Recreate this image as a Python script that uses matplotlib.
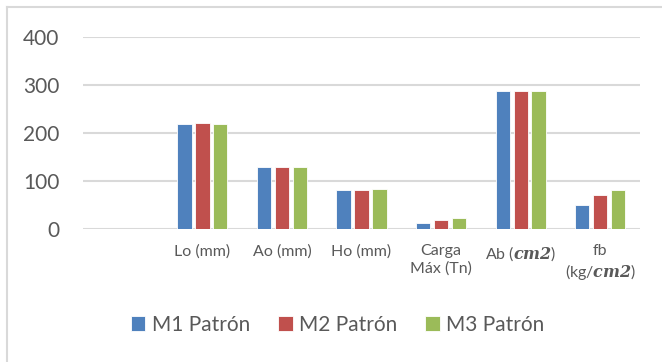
import numpy as np
import matplotlib
matplotlib.use("Agg")
import matplotlib.pyplot as plt
from matplotlib.lines import Line2D

categories = ["", "Lo (mm)", "Ao (mm)", "Ho (mm)", "Carga\nMáx (Tn)",
              r"Ab ($\mathbfit{cm2}$)", "fb\n(kg/$\mathbfit{cm2}$)"]
m1 = [np.nan, 219.5, 130.0, 81.0, 12.6, 287.8, 51.0]
m2 = [np.nan, 221.5, 128.5, 81.0, 18.9, 287.8, 70.6]
m3 = [np.nan, 219.5, 128.5, 82.4, 22.4, 286.6, 81.8]
series = ["M1 Patrón", "M2 Patrón", "M3 Patrón"]
colors = ["#4F81BD", "#C0504D", "#9BBB59"]
yticks = [0, 100, 200, 300, 400]

plt.rcParams['font.family'] = ['Lato', 'DejaVu Sans']
plt.rcParams['mathtext.fontset'] = 'dejavuserif'
text_color = "#595959"

fig = plt.figure(figsize=(6.62, 3.62), dpi=100)
ax = fig.add_axes([0.1254, 0.3674, 0.8414, 0.5304])

x = np.arange(len(categories))
step = 0.225
width = 0.18
for i, (vals, name, c) in enumerate(zip([m1, m2, m3], series, colors)):
    ax.bar(x + (i - 1) * step, vals, width, color=c, label=name,
           edgecolor="white", linewidth=0.6, zorder=3)

ax.set_xlim(-0.5, len(categories) - 0.5)
ax.set_ylim(0, 400)
ax.set_yticks(yticks)
ax.set_yticklabels([str(v) for v in yticks], fontsize=15, color=text_color)
ax.set_xticks(x)
ax.set_xticklabels(categories, fontsize=11.5, color=text_color,
                   linespacing=1.25, va="top")
ax.tick_params(axis="y", length=0, pad=17)
ax.tick_params(axis="x", length=0, pad=11)
ax.grid(axis="y", color="#d9d9d9", linewidth=1.5, zorder=0)
for s in ax.spines.values():
    s.set_visible(False)

# chart outline (top and left edges)
fig.add_artist(Line2D([7 / 662, 1], [1 - 7 / 362, 1 - 7 / 362],
                      transform=fig.transFigure, color="#d9d9d9", linewidth=1.5))
fig.add_artist(Line2D([7 / 662, 7 / 662], [0, 1 - 7 / 362],
                      transform=fig.transFigure, color="#d9d9d9", linewidth=1.5))

leg = fig.legend(loc="center", bbox_to_anchor=(0.51, 1 - 325 / 362), ncol=3,
                 frameon=False, fontsize=15, handlelength=0.7, handleheight=0.7,
                 handletextpad=0.3, columnspacing=1.35)
for t in leg.get_texts():
    t.set_color(text_color)

fig.savefig("out.png", dpi=100)
